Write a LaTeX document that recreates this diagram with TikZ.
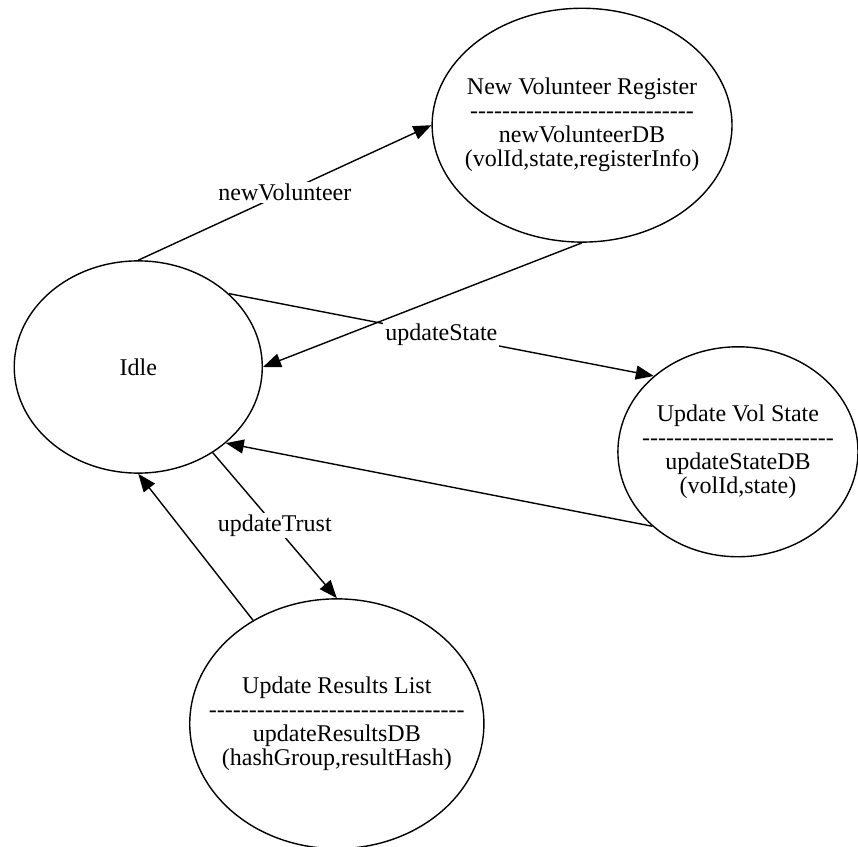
\documentclass[tikz,border=0pt]{standalone}
\usepackage{fontspec}
\setmainfont{Liberation Serif}
\usetikzlibrary{arrows.meta, shapes.geometric}

\newcommand{\dashrow}[1]{\foreach \k in {1,...,#1}{-\kern0pt}}

\begin{document}
\begin{tikzpicture}[
  font=\fontsize{12}{12}\selectfont,
  state/.style={draw, ellipse, line width=0.7pt, inner sep=0pt},
  info/.style={align=center, inner sep=0pt},
  event/.style={fill=white, inner sep=1pt},
  arrow/.style={-{Triangle[length=9pt, width=7pt]}, line width=0.7pt},
]
\useasboundingbox (0,0) rectangle (15.08,-14.88);

\node[state, minimum width=4.36cm, minimum height=3.73cm] (idle) at (2.43,-6.45) {Idle};
\node[state, minimum width=5.27cm, minimum height=4.11cm,
      label={[info]center:{New Volunteer Register\\\dashrow{28}\\newVolunteerDB\\(volId,state,registerInfo)}}]
      (register) at (10.23,-2.20) {};
\node[state, minimum width=4.22cm, minimum height=3.69cm,
      label={[info]center:{Update Vol State\\\dashrow{24}\\updateStateDB\\(volId,state)}}]
      (volstate) at (12.97,-7.94) {};
\node[state, minimum width=5.17cm, minimum height=4.39cm,
      label={[info]center:{Update Results List\\\dashrow{32}\\updateResultsDB\\(hashGroup,resultHash)}}]
      (results) at (5.92,-12.72) {};

\draw[arrow] (idle.north) -- node[event] {newVolunteer} (register.west);
\draw[arrow] (idle.39) -- node[event] {updateState} (volstate.138);
\draw[arrow] (register.south) -- (idle.east);
\draw[arrow] (volstate.221) -- (idle.-41);
\draw[arrow] (idle.-49) -- node[event] {updateTrust} (results.north);
\draw[arrow] (results.129) -- (idle.south);
\end{tikzpicture}
\end{document}
